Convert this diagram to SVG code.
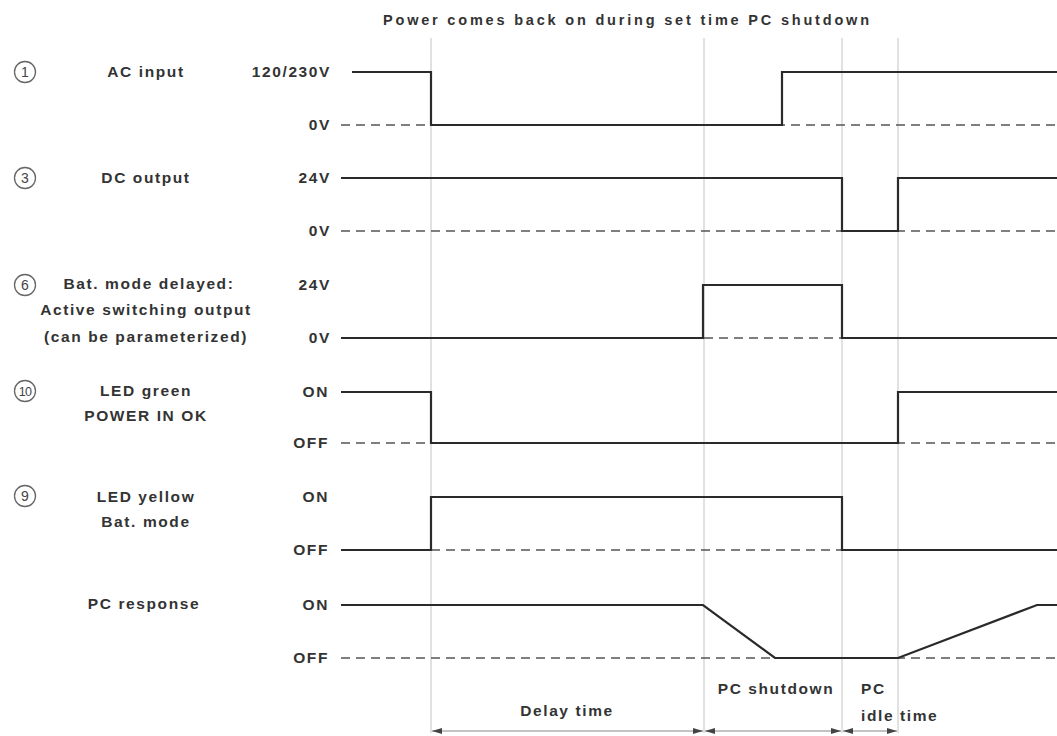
<svg xmlns="http://www.w3.org/2000/svg" width="1057" height="736" viewBox="0 0 1057 736">
<defs>
<style>
text{font-family:"Liberation Sans",Arial,sans-serif;font-weight:bold;fill:#333;font-size:15.5px;letter-spacing:1.6px}
.c{text-anchor:middle}
.r{text-anchor:end}
.grid{stroke:#c4c4c4;stroke-width:1;fill:none}
.dash{stroke:#555;stroke-width:1.4;stroke-dasharray:9,6;fill:none}
.sig{stroke:#2a2a2a;stroke-width:2.2;fill:none;stroke-linejoin:miter}
.num{fill:none;stroke:#666;stroke-width:1.3}
.nt{font-size:14px;font-weight:normal;letter-spacing:0;fill:#444}
.dim{stroke:#888;stroke-width:1;fill:none}
</style>
<marker id="ar" viewBox="0 0 10 6" refX="10" refY="3" markerWidth="10" markerHeight="6" orient="auto-start-reverse" markerUnits="userSpaceOnUse">
<path d="M0,0 L10,3 L0,6 z" fill="#444"/>
</marker>
</defs>
<rect width="1057" height="736" fill="#fff"/>
<text id="title" x="383" y="25" style="font-size:14.5px;letter-spacing:0" textLength="486" lengthAdjust="spacing">Power comes back on during set time PC shutdown</text>
<g id="gridlines">
<line class="grid" x1="431" y1="38" x2="431" y2="733"/>
<line class="grid" x1="704" y1="38" x2="704" y2="733"/>
<line class="grid" x1="842" y1="38" x2="842" y2="733"/>
<line class="grid" x1="898" y1="38" x2="898" y2="733"/>
</g>
<g id="row-ac">
<circle class="num" cx="25" cy="72" r="10.5"/><text class="c nt" x="25" y="77">1</text>
<text class="c" x="146" y="77">AC input</text>
<text class="r" x="331" y="77">120/230V</text>
<text class="r" x="331" y="130">0V</text>
<line class="dash" x1="341" y1="125" x2="1057" y2="125"/>
<polyline class="sig" points="352,72 431,72 431,125 782,125 782,72 1057,72"/>
</g>
<g id="row-dc">
<circle class="num" cx="25" cy="178" r="10.5"/><text class="c nt" x="25" y="183">3</text>
<text class="c" x="146" y="183">DC output</text>
<text class="r" x="331" y="183">24V</text>
<text class="r" x="331" y="236">0V</text>
<line class="dash" x1="341" y1="231" x2="1057" y2="231"/>
<polyline class="sig" points="341,178 842,178 842,231 898,231 898,178 1057,178"/>
</g>
<g id="row-bat">
<circle class="num" cx="25" cy="285" r="10.5"/><text class="c nt" x="25" y="290">6</text>
<text class="c" x="149" y="289">Bat. mode delayed:</text>
<text class="c" x="146" y="315">Active switching output</text>
<text class="c" x="146" y="342">(can be parameterized)</text>
<text class="r" x="331" y="290">24V</text>
<text class="r" x="331" y="343">0V</text>
<line class="dash" x1="704" y1="338" x2="842" y2="338"/>
<polyline class="sig" points="341,338 703,338 703,285 842,285 842,338 1057,338"/>
</g>
<g id="row-green">
<circle class="num" cx="25" cy="391" r="10.5"/><text class="c nt" x="25" y="396" style="font-size:12.5px;letter-spacing:-0.6px">10</text>
<text class="c" x="146" y="396">LED green</text>
<text class="c" x="146" y="421">POWER IN OK</text>
<text class="r" x="329" y="397">ON</text>
<text class="r" x="329" y="448">OFF</text>
<line class="dash" x1="341" y1="443" x2="1057" y2="443"/>
<polyline class="sig" points="341,392 431,392 431,443 898,443 898,392 1057,392"/>
</g>
<g id="row-yellow">
<circle class="num" cx="25" cy="496" r="10.5"/><text class="c nt" x="25" y="501">9</text>
<text class="c" x="146" y="502">LED yellow</text>
<text class="c" x="146" y="527">Bat. mode</text>
<text class="r" x="329" y="502">ON</text>
<text class="r" x="329" y="555">OFF</text>
<line class="dash" x1="341" y1="550" x2="1057" y2="550"/>
<polyline class="sig" points="341,550 431,550 431,497 842,497 842,550 1057,550"/>
</g>
<g id="row-pc">
<text class="c" x="144" y="609">PC response</text>
<text class="r" x="329" y="610">ON</text>
<text class="r" x="329" y="663">OFF</text>
<line class="dash" x1="341" y1="658" x2="1057" y2="658"/>
<polyline class="sig" points="341,605 703,605 775,658 898,658 1037,605 1057,605"/>
</g>
<g id="connectors">
<line class="dim" x1="432" y1="731" x2="703" y2="731" marker-start="url(#ar)" marker-end="url(#ar)"/>
<line class="dim" x1="705" y1="731" x2="841" y2="731" marker-start="url(#ar)" marker-end="url(#ar)"/>
<line class="dim" x1="843" y1="731" x2="897" y2="731" marker-start="url(#ar)" marker-end="url(#ar)"/>
</g>
<g id="durations">
<text class="c" x="567" y="716">Delay time</text>
<text class="c" x="776" y="694">PC shutdown</text>
<text x="861" y="694">PC</text>
<text x="861" y="721">idle time</text>
</g>
</svg>
